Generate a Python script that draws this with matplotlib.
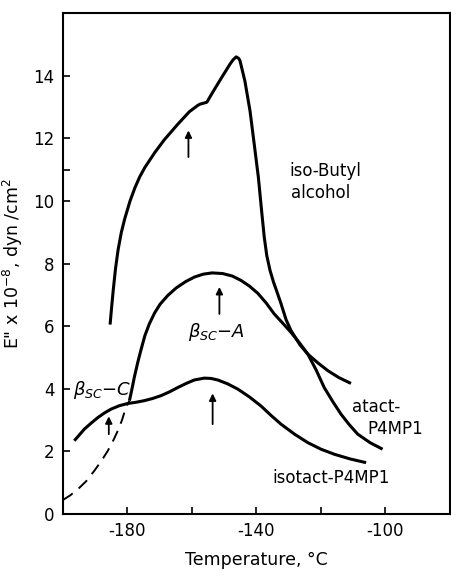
import matplotlib
matplotlib.use("Agg")
import matplotlib.pyplot as plt

plt.rcParams['font.family'] = ['DejaVu Sans']
plt.rcParams['axes.unicode_minus'] = False

# loss modulus E'' (x 10^-8 dyn/cm^2) vs temperature (C)
butyl_T = [-185.4, -184.9, -184.4, -183.7, -182.9, -181.9, -180.8, -179.2, -177.7,
           -176.2, -174.6, -171.5, -168.6, -164.4,
           -160.8, -158.2, -157.5, -155.4, -153.4, -150.8, -148.2, -147.3, -146.3,
           -145.5, -145.1, -143.6, -142.0, -140.7, -139.4, -138.4, -137.6, -136.8,
           -135.8, -134.7, -133.7, -132.4, -130.8, -129.3, -126.5, -124.1, -121.0,
           -117.9, -114.5, -110.7]
butyl_E = [6.05, 6.63, 7.17, 7.85, 8.45, 9.0, 9.45, 10.0, 10.42,
           10.77, 11.07, 11.55, 11.95, 12.45,
           12.85, 13.05, 13.09, 13.15, 13.5, 13.94, 14.37, 14.5, 14.6,
           14.55, 14.47, 13.83, 12.87, 11.81, 10.74, 9.67, 8.85, 8.25,
           7.78, 7.4, 7.11, 6.72, 6.2, 5.86, 5.4, 5.11, 4.83,
           4.58, 4.36, 4.17]

atact_T = [-179.4, -178.6, -177.9, -176.8, -175.8, -174.6, -173.2, -171.6, -169.9,
           -167.5, -164.9, -162.0, -159.2, -156.5, -153.8, -150.5, -147.5, -144.8,
           -142.2, -139.6, -137.0, -134.5, -131.9, -129.3, -126.7, -124.1, -121.5,
           -119.0, -116.4, -113.8, -111.2, -108.6, -104.8, -100.9]
atact_E = [3.62, 4.0, 4.36, 4.85, 5.25, 5.7, 6.08, 6.42, 6.7,
           6.98, 7.22, 7.42, 7.57, 7.66, 7.7, 7.68, 7.6, 7.46,
           7.28, 7.05, 6.74, 6.39, 6.1, 5.8, 5.47, 5.11, 4.6,
           4.04, 3.6, 3.19, 2.85, 2.55, 2.28, 2.07]

# extrapolated low-temperature part of the atactic curve
atact_ext_T = [-200.0, -197.7, -195.4, -192.8, -190.3, -188.2, -186.1, -184.5,
               -183.0, -181.7, -180.5, -179.4]
atact_ext_E = [0.45, 0.6, 0.79, 1.05, 1.38, 1.68, 2.02, 2.33,
               2.66, 3.0, 3.4, 3.62]

isotact_T = [-196.5, -194.9, -193.4, -191.3, -189.2, -187.1, -185.1, -182.5, -179.9,
             -177.3, -174.8, -172.2, -169.6, -167.0, -164.4, -161.8, -159.3, -156.2,
             -154.1, -152.0, -149.0, -145.8, -142.2, -138.6, -135.5, -132.4, -128.2,
             -124.1, -120.0, -115.9, -111.0, -106.0]
isotact_E = [2.34, 2.53, 2.71, 2.9, 3.08, 3.23, 3.35, 3.46, 3.53,
             3.57, 3.62, 3.69, 3.78, 3.9, 4.04, 4.17, 4.28, 4.34,
             4.33, 4.28, 4.16, 3.99, 3.74, 3.45, 3.15, 2.87, 2.55,
             2.28, 2.07, 1.91, 1.76, 1.64]

# arrows marking the relaxation maxima: (T, tail, head)
arrows = [(-161.1, 11.4, 12.25), (-151.5, 6.39, 7.25),
          (-153.6, 2.87, 3.85), (-185.8, 2.55, 3.12)]

xticks = [-180, -160, -140, -120, -100]
xticklabels = ['-180', '', '-140', '', '-100']
yticks = [0, 2, 4, 6, 8, 10, 12, 14]

fig = plt.figure(figsize=(4.51, 5.71), dpi=100)
ax = fig.add_axes([0.1397, 0.0998, 0.858, 0.8774])

lw = 2.2
style = dict(color='k', lw=lw, solid_joinstyle='round', solid_capstyle='butt')
ax.plot(butyl_T, butyl_E, **style)
ax.plot(atact_T, atact_E, **style)
ax.plot(atact_ext_T, atact_ext_E, color='k', lw=1.4, dashes=(6, 4))
ax.plot(isotact_T, isotact_E, **style)

for t, y0, y1 in arrows:
    ax.annotate('', xy=(t, y1), xytext=(t, y0),
                arrowprops=dict(arrowstyle='-|>', color='k', lw=1.3,
                                mutation_scale=10, shrinkA=0, shrinkB=0))

fs = 12
ax.text(-118.8, 10.94, 'iso-Butyl', ha='center', va='center', fontsize=fs)
ax.text(-120.2, 10.24, 'alcohol', ha='center', va='center', fontsize=fs)
ax.text(-161.2, 5.66, r'$\beta_{SC}$$-A$', ha='left', va='baseline', fontsize=fs + 1)
ax.text(-196.9, 3.81, r'$\beta_{SC}$$-C$', ha='left', va='baseline', fontsize=fs + 1)
ax.text(-110.4, 3.42, 'atact-', ha='left', va='center', fontsize=fs)
ax.text(-105.7, 2.72, 'P4MP1', ha='left', va='center', fontsize=fs)
ax.text(-135.2, 1.15, 'isotact-P4MP1', ha='left', va='center', fontsize=fs)

ax.set_xlim(-200, -80)
ax.set_ylim(0, 16)
ax.set_xticks(xticks)
ax.set_xticklabels(xticklabels)
ax.set_yticks(yticks)
ax.set_yticks([11], minor=True)
ax.tick_params(which='both', direction='in', length=5, width=1.2, labelsize=fs, pad=6)

for s in ax.spines.values():
    s.set_linewidth(1.5)

ax.set_xlabel('Temperature, °C', fontsize=fs + 0.5, labelpad=8)
ax.set_ylabel('E" x 10$^{-8}$, dyn /cm$^2$', fontsize=fs + 0.5, labelpad=6)

fig.savefig('out.png', dpi=100)
